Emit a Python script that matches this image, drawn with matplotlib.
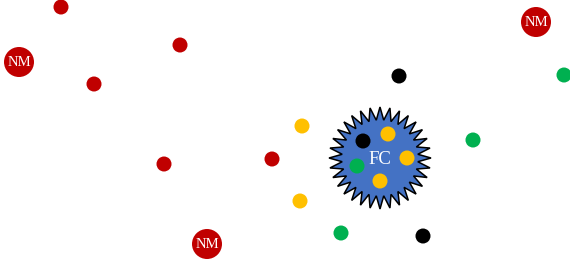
import numpy as np
import matplotlib
matplotlib.use("Agg")
import matplotlib.pyplot as plt
from matplotlib.patches import Circle, Polygon

# small red dots
red_x = [61, 180, 94, 164, 272]
red_y = [7, 45, 84, 164, 159]
# large NM circles
nm_x = [19, 536, 207]
nm_y = [62, 22, 244]
nm_label = "NM"
# black dots
black_x = [399, 363, 423]
black_y = [76, 141, 236]
# yellow dots
yellow_x = [302, 388, 407, 380, 300]
yellow_y = [126, 134, 158, 181, 201]
# green dots
green_x = [564, 473, 357, 341]
green_y = [75, 140, 166, 233]
# central star
star_center = (380, 158)
star_label = "FC"
star_points = 32

RED = "#C00000"
YELLOW = "#FFC000"
GREEN = "#00B050"
BLACK = "#000000"
BLUE = "#4472C4"

fig = plt.figure(figsize=(5.7, 2.65), dpi=100)
ax = fig.add_axes([0, 0, 1, 1])
ax.set_xlim(0, 570)
ax.set_ylim(265, 0)
ax.set_aspect("equal")
ax.axis("off")

# star
n = star_points
ro, ri = 51, 38
ang = np.arange(2 * n) * np.pi / n - np.pi / 2
rad = np.where(np.arange(2 * n) % 2 == 0, ro, ri)
cx, cy = star_center
verts = np.column_stack([cx + rad * np.cos(ang), cy + rad * np.sin(ang)])
ax.add_patch(Polygon(verts, closed=True, facecolor=BLUE, edgecolor="black",
                     linewidth=1.1, zorder=1))
ax.text(cx, cy + 1, star_label, color="white", fontsize=13.5,
        family="Liberation Serif", ha="center", va="center", zorder=3)

r_small = 7.5
for xs, ys, c in [(red_x, red_y, RED), (black_x, black_y, BLACK),
                  (yellow_x, yellow_y, YELLOW), (green_x, green_y, GREEN)]:
    for x, y in zip(xs, ys):
        ax.add_patch(Circle((x, y), r_small, facecolor=c, edgecolor="none", zorder=2))

for x, y in zip(nm_x, nm_y):
    ax.add_patch(Circle((x, y), 15, facecolor=RED, edgecolor="none", zorder=2))
    ax.text(x, y + 0.5, nm_label, color="white", fontsize=10.5,
            family="Liberation Serif", ha="center", va="center", zorder=3)

fig.savefig("out.png", dpi=100)
